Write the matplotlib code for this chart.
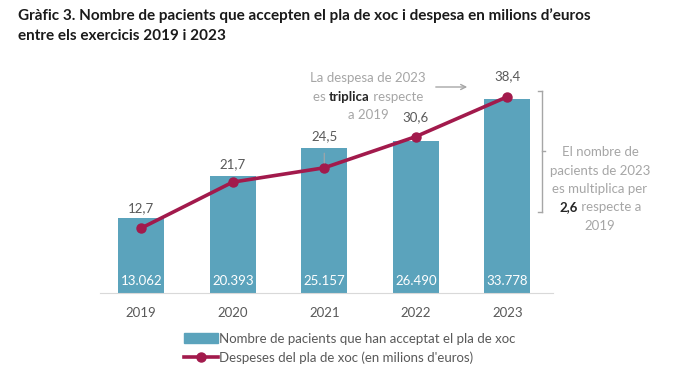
import matplotlib
matplotlib.use("Agg")
import matplotlib.pyplot as plt
import numpy as np

# data
years = ["2019", "2020", "2021", "2022", "2023"]
patients = [13062, 20393, 25157, 26490, 33778]
patient_labels = ["13.062", "20.393", "25.157", "26.490", "33.778"]
spending = [12.7, 21.7, 24.5, 30.6, 38.4]
spending_labels = ["12,7", "21,7", "24,5", "30,6", "38,4"]

bar_color = "#5ba3bc"
line_color = "#a21a4c"
text_grey = "#595959"
light_grey = "#a6a6a6"
dark = "#262626"
FS = 9.5

plt.rcParams['font.family'] = ['Lato', 'DejaVu Sans']

fig = plt.figure(figsize=(7, 3.82), dpi=100)
ax = fig.add_axes([0.143, 0.233, 0.647, 0.602])
ax2 = ax.twinx()

x = np.arange(len(years))
ax.bar(x, patients, width=0.5, color=bar_color, zorder=2)
ax.set_ylim(0, 40000)
ax.set_xlim(-0.45, 4.5)

ax2.plot(x, spending, color=line_color, lw=2.6, marker='o', ms=6.5, zorder=3)
ax2.set_ylim(0, 45)

for a in (ax, ax2):
    for s in a.spines.values():
        s.set_visible(False)
    a.set_yticks([])
ax.spines['bottom'].set_visible(True)
ax.spines['bottom'].set_color("#d9d9d9")
ax.set_xticks(x)
ax.set_xticklabels(years, fontsize=FS, color=text_grey)
ax.tick_params(axis='x', length=0, pad=10)

# bar value labels (white, near the base)
for xi, lab in zip(x, patient_labels):
    ax.text(xi, 2100, lab, ha='center', va='center', color='white', fontsize=FS, zorder=4)

# line value labels
offsets = [14, 13, 23, 14, 15]
for xi, v, lab, off in zip(x, spending, spending_labels, offsets):
    ax2.annotate(lab, (xi, v), xytext=(0, off), textcoords='offset points',
                 ha='center', va='center', color=text_grey, fontsize=FS)
# leader line for 2021
ax2.annotate("", (2, spending[2] + 0.4), xytext=(2, spending[2] + 3.4),
             arrowprops=dict(arrowstyle='-', color=light_grey, lw=0.8))


def px(xp, yp):
    return xp / 700, 1 - yp / 382


renderer = fig.canvas.get_renderer()


def mixed_line(xc, yc, parts):
    # parts: list of (text, color, weight); line centred at xc
    texts = []
    for s, c, w in parts:
        t = fig.text(0, 0, s, color=c, fontweight=w, fontsize=FS, ha='left', va='center')
        texts.append(t)
    widths = [t.get_window_extent(renderer).width for t in texts]
    start = xc - sum(widths) / 2
    for t, w in zip(texts, widths):
        t.set_position(px(start, yc))
        start += w


# annotation: triplica
mixed_line(368, 78, [("La despesa de 2023", light_grey, 'normal')])
mixed_line(368, 97, [("es ", light_grey, 'normal'), ("triplica", dark, 'bold'),
                     (" respecte", light_grey, 'normal')])
mixed_line(368, 115, [("a 2019", light_grey, 'normal')])
fig.patches.append(matplotlib.patches.FancyArrowPatch(
    px(433, 87), px(470, 87), transform=fig.transFigure,
    arrowstyle='->', mutation_scale=9, color=light_grey, lw=1))

# bracket
bx = 542
for xs, ys in [([bx, bx], [91, 212]), ([bx - 4, bx], [91, 91]),
               ([bx - 4, bx], [212, 212]), ([bx, bx + 3], [151, 151])]:
    fig.add_artist(plt.Line2D([v / 700 for v in xs], [1 - v / 382 for v in ys],
                              color=light_grey, lw=1, transform=fig.transFigure))

mixed_line(600, 152, [("El nombre de", light_grey, 'normal')])
mixed_line(600, 171, [("pacients de 2023", light_grey, 'normal')])
mixed_line(600, 189, [("es multiplica per", light_grey, 'normal')])
mixed_line(600, 207, [("2,6", dark, 'bold'), (" respecte a", light_grey, 'normal')])
mixed_line(600, 226, [("2019", light_grey, 'normal')])

# legend
leg_h = [matplotlib.patches.Patch(color=bar_color),
         plt.Line2D([], [], color=line_color, lw=2.6, marker='o', ms=6.5)]
leg = fig.legend(leg_h, ["Nombre de pacients que han acceptat el pla de xoc",
                         "Despeses del pla de xoc (en milions d'euros)"],
                 loc='upper left', bbox_to_anchor=px(177, 326), frameon=False,
                 fontsize=FS, labelcolor=text_grey, handlelength=2.6, handletextpad=0.1,
                 labelspacing=0.5, borderpad=0)

# title
fig.text(18 / 700, 1 - 8 / 382,
         "Gràfic 3. Nombre de pacients que accepten el pla de xoc i despesa en milions d\u2019euros\nentre els exercicis 2019 i 2023",
         ha='left', va='top', fontsize=11, fontweight='bold', color="#1a1a1a",
         linespacing=1.6)

fig.savefig("out.png", dpi=100)
